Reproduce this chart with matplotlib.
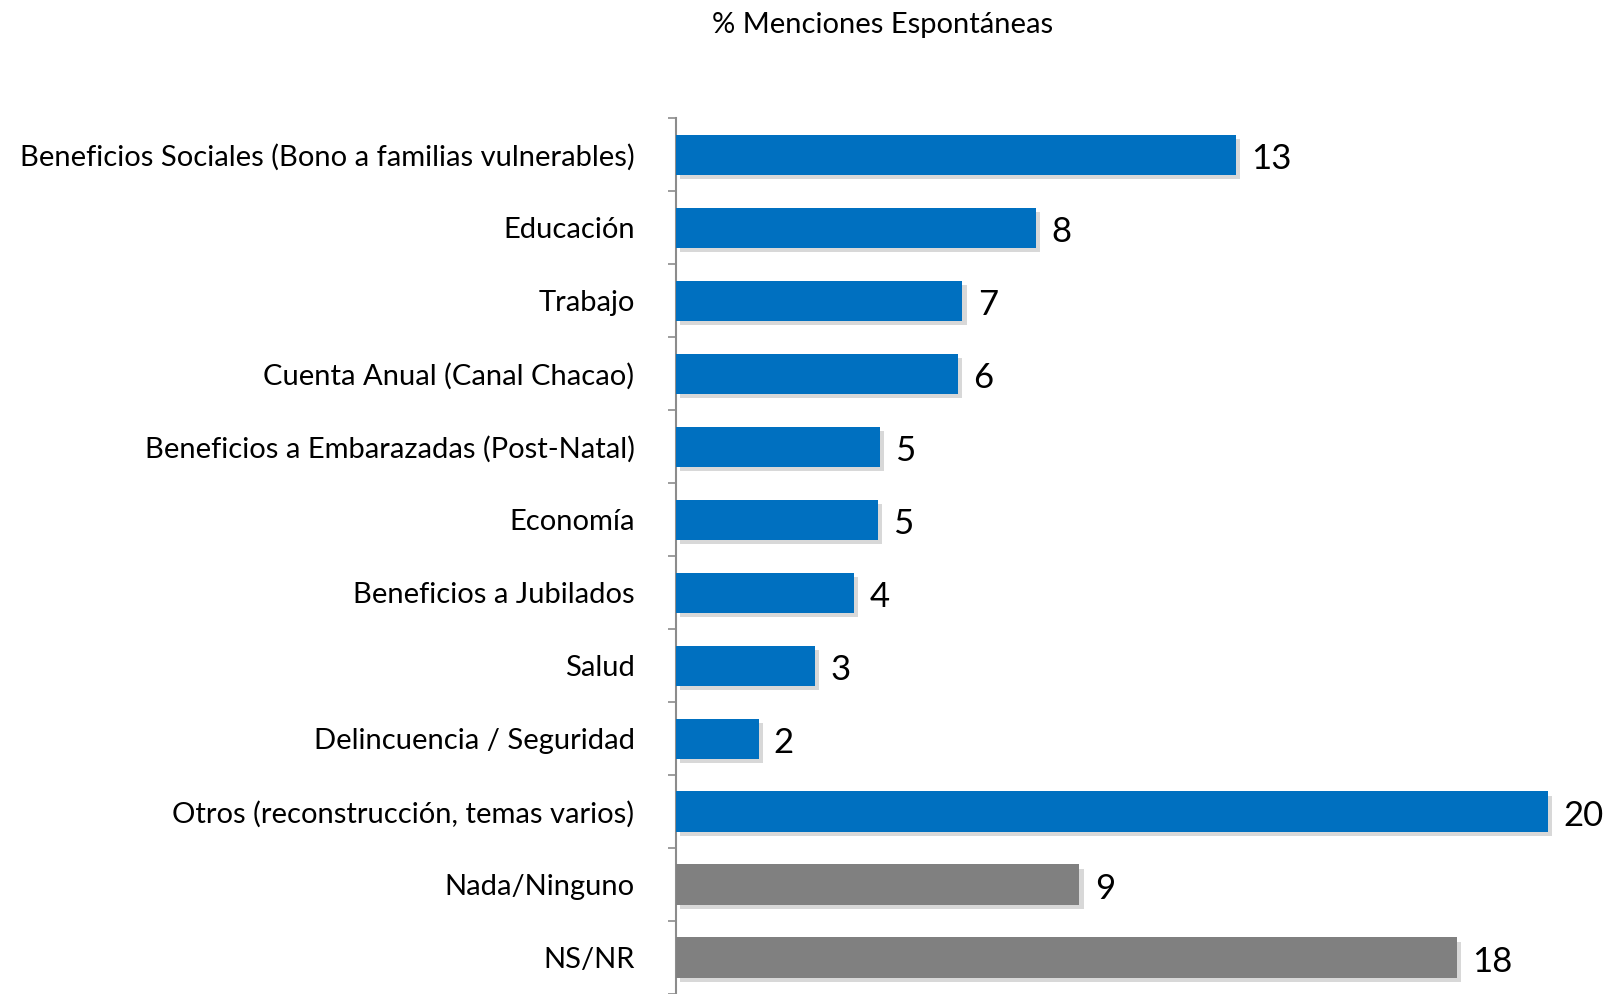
import matplotlib
matplotlib.use("Agg")
import matplotlib.pyplot as plt
import matplotlib.patheffects as pe
import numpy as np

plt.rcParams['font.family'] = ['Lato', 'DejaVu Sans']

categories = [
    "Beneficios Sociales (Bono a familias vulnerables)",
    "Educación",
    "Trabajo",
    "Cuenta Anual (Canal Chacao)",
    "Beneficios a Embarazadas (Post-Natal)",
    "Economía",
    "Beneficios a Jubilados",
    "Salud",
    "Delincuencia / Seguridad",
    "Otros (reconstrucción, temas varios)",
    "Nada/Ninguno",
    "NS/NR",
]
values = [12.9, 8.3, 6.6, 6.5, 4.7, 4.65, 4.1, 3.2, 1.9, 20.1, 9.3, 18.0]
labels = ["13", "8", "7", "6", "5", "5", "4", "3", "2", "20", "9", "18"]
colors = ["#0070C0"] * 10 + ["#808080"] * 2

fig = plt.figure(figsize=(16.1, 9.94), dpi=100)
ax = fig.add_axes([0.42, 0.0, 0.579, 0.881])

y = np.arange(len(categories))
bars = ax.barh(y, values, height=0.55, color=colors, zorder=3)
for b in bars:
    b.set_path_effects([pe.SimplePatchShadow(offset=(3, -3), shadow_rgbFace="#aaaaaa", alpha=0.45), pe.Normal()])

for yi, v, lab in zip(y, values, labels):
    ax.annotate(lab, (v, yi), xytext=(11, -3), textcoords="offset points",
                va="center", ha="left", fontsize=25, color="black", annotation_clip=False)

ax.set_ylim(len(categories) - 0.5, -0.5)
ax.set_xlim(0, 21.5)
ax.set_yticks(y)
ax.set_yticklabels(categories, fontsize=21)
ax.tick_params(axis="y", which="major", length=0, pad=30)
ax.set_yticks(np.arange(-0.5, len(categories), 1), minor=True)
ax.tick_params(axis="y", which="minor", length=6, width=1.2, color="#8c8c8c")
ax.set_xticks([])
for s in ["top", "right", "bottom"]:
    ax.spines[s].set_visible(False)
ax.spines["left"].set_color("#8c8c8c")
ax.spines["left"].set_linewidth(1.5)

fig.text(0.548, 0.975, "% Menciones Espontáneas", ha="center", va="center", fontsize=21)

fig.savefig("out.png", dpi=100)
